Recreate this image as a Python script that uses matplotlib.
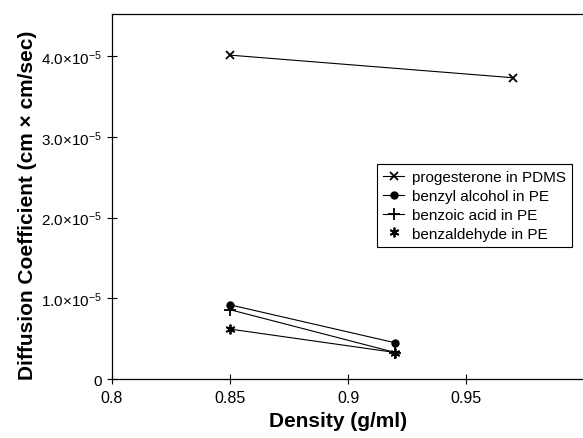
import matplotlib
matplotlib.use("Agg")
import matplotlib.pyplot as plt
from matplotlib.ticker import FixedLocator, FuncFormatter

plt.rcParams['font.family'] = ['Liberation Sans', 'DejaVu Sans']
plt.rcParams['mathtext.fontset'] = 'custom'
plt.rcParams['mathtext.rm'] = 'Liberation Sans'
plt.rcParams['mathtext.it'] = 'Liberation Sans'

# data
prog_x = [0.85, 0.97]
prog_y = [4.01e-5, 3.73e-5]
balc_x = [0.85, 0.92]
balc_y = [0.92e-5, 0.45e-5]
bacid_x = [0.85, 0.92]
bacid_y = [0.86e-5, 0.33e-5]
bald_x = [0.85, 0.92]
bald_y = [0.62e-5, 0.33e-5]

x_ticks = [0.8, 0.85, 0.9, 0.95]
y_ticks = [0, 1e-5, 2e-5, 3e-5, 4e-5]

fig = plt.figure(figsize=(5.83, 4.39), dpi=100)
ax = fig.add_axes([0.192, 0.134, 0.81, 0.832])

lw = 0.8
ax.plot(prog_x, prog_y, color='black', lw=lw, marker='x', ms=6, mew=1.3,
        label='progesterone in PDMS')
ax.plot(balc_x, balc_y, color='black', lw=lw, marker='o', ms=5,
        label='benzyl alcohol in PE')
ax.plot(bacid_x, bacid_y, color='black', lw=lw, marker='+', ms=8, mew=1.3,
        label='benzoic acid in PE')
ax.plot(bald_x, bald_y, color='black', lw=lw)
ax.plot(bald_x, bald_y, color='black', ls='none', marker=(6, 2, 0), ms=7, mew=1.3,
        label='benzaldehyde in PE')

ax.set_xlim(0.8, 1.0)
ax.set_ylim(0, 4.52e-5)
ax.xaxis.set_major_locator(FixedLocator(x_ticks))
ax.yaxis.set_major_locator(FixedLocator(y_ticks))
ax.set_xticklabels(['0.8', '0.85', '0.9', '0.95'])


def yfmt(v, pos):
    if v == 0:
        return '0'
    return r'$%.1f{\times}10^{-5}$' % (v / 1e-5)


ax.yaxis.set_major_formatter(FuncFormatter(yfmt))
ax.tick_params(direction='inout', length=7, width=0.8, labelsize=11.5, pad=4)
ax.tick_params(axis='y', labelsize=11)
ax.spines['right'].set_visible(False)
for s in ['left', 'top', 'bottom']:
    ax.spines[s].set_linewidth(0.9)

ax.set_xlabel('Density (g/ml)', fontsize=15, fontweight='bold')
ax.set_ylabel('Diffusion Coefficient (cm \u00d7 cm/sec)', fontsize=15,
              fontweight='bold')
ax.xaxis.set_label_coords(0.479, -0.088)
ax.yaxis.set_label_coords(-0.159, 0.479)

leg = ax.legend(loc='upper left', bbox_to_anchor=(0.561, 0.589), fontsize=11,
                frameon=True, fancybox=False, edgecolor='black', framealpha=1,
                handlelength=1.4, handletextpad=0.5, borderpad=0.4,
                labelspacing=0.32, borderaxespad=0)
leg.get_frame().set_linewidth(0.8)

fig.savefig('out.png', dpi=100)
